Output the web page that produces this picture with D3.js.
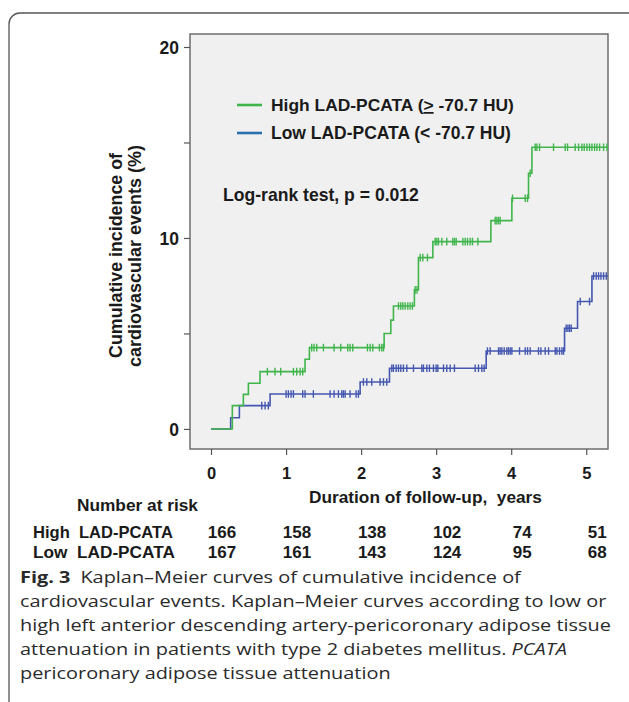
<!DOCTYPE html>
<html><head><meta charset="utf-8">
<script src="https://cdn.jsdelivr.net/npm/d3@7"></script>
<style>
html,body{margin:0;padding:0;background:#fff;}
svg{display:block;}
.ax{font-family:"Liberation Sans",Arial,sans-serif;font-weight:bold;fill:#1a1a1a;}
.cap{font-family:"Open Sans","Noto Sans",sans-serif;fill:#2a2a2a;}
</style></head><body>
<svg id="c" width="629" height="702"></svg>
<script>
// ---- data ----
const xTicks = [0,1,2,3,4,5];
const yTicks = [0,5,10,15,20];
const yTickLabels = ["0","","10","","20"];
// step events: [time (years), cumulative incidence (%) after the step]
const highSteps = [[0,0],[0.284,1.22],[0.431,1.81],[0.498,2.39],[0.653,3.0],[1.253,3.65],[1.311,4.26],[2.307,5.0],[2.396,5.7],[2.431,6.44],[2.71,7.28],[2.764,8.97],[2.956,9.81],[3.729,10.91],[4.009,12.08],[4.231,13.39],[4.276,14.75]];
const lowSteps = [[0,0],[0.262,0.59],[0.378,1.22],[0.787,1.83],[1.987,2.46],[2.378,3.18],[3.667,4.08],[4.711,5.27],[4.884,6.67],[5.076,8.01]];
const highCensor = [0.751,0.853,0.929,1.098,1.142,1.187,1.222,1.342,1.373,1.409,1.498,1.640,1.729,1.822,1.853,1.889,2.084,2.120,2.156,2.244,2.276,2.298,2.498,2.529,2.556,2.587,2.622,2.653,2.684,2.72,2.745,2.787,2.822,2.884,2.987,3.009,3.031,3.076,3.142,3.222,3.244,3.267,3.356,3.387,3.418,3.453,3.484,3.556,3.787,3.809,3.831,3.853,4.018,4.187,4.218,4.253,4.32,4.342,4.378,4.564,4.72,4.751,4.853,4.898,4.942,4.973,5.009,5.044,5.076,5.111,5.142,5.178,5.231,5.276];
const lowCensor = [0.676,0.72,0.764,1.0,1.031,1.067,1.098,1.222,1.253,1.364,1.587,1.64,1.698,1.742,1.764,1.787,1.853,1.933,1.964,2.031,2.076,2.142,2.253,2.298,2.342,2.409,2.431,2.467,2.498,2.529,2.564,2.609,2.698,2.809,2.831,2.876,2.911,2.964,3.0,3.022,3.098,3.142,3.187,3.244,3.52,3.564,3.609,3.64,3.684,3.72,3.831,3.853,3.876,3.907,3.942,3.964,3.987,4.009,4.111,4.187,4.218,4.253,4.364,4.396,4.453,4.498,4.587,4.609,4.644,4.676,4.698,4.733,4.756,4.778,4.8,4.92,5.044,5.098,5.133,5.164,5.196,5.231,5.267];
const riskTimes = [0,1,2,3,4,5];
const riskHigh = [166,158,138,102,74,51];
const riskLow = [167,161,143,124,95,68];
const groupNames = ["High  LAD-PCATA","Low  LAD-PCATA"];
const captionLines = [
 "Kaplan\u2013Meier curves of cumulative incidence of",
 "cardiovascular events. Kaplan\u2013Meier curves according to low or",
 "high left anterior descending artery-pericoronary adipose tissue",
 "attenuation in patients with type 2 diabetes mellitus. ",
 "pericoronary adipose tissue attenuation"
];
const GREEN = "#40b54c", BLUE = "#4457b0", LEG_BLUE = "#2c6fae";

// ---- helpers ----
function fit(sel, w){ // scale font-size so text width matches w
  const n = sel.node(); const fs = parseFloat(sel.style("font-size"));
  const len = n.getComputedTextLength(); if(len>0) sel.style("font-size",(fs*w/len).toFixed(2)+"px");
}

// ---- layout ----
const svg = d3.select("#c");
const box = {l:190, r:608, t:34, b:449};
const x = d3.scaleLinear().domain([-0.28, 5.29]).range([box.l, box.r]);
const y = d3.scaleLinear().domain([-1.05, 20.68]).range([box.b, box.t]);
const tEnd = x.domain()[1];

// outer rounded frame
svg.append("rect").attr("x",9).attr("y",13).attr("width",640).attr("height",720)
  .attr("rx",11).attr("fill","none").attr("stroke","#555").attr("stroke-width",1.3);

// plot box
svg.append("rect").attr("x",box.l).attr("y",box.t).attr("width",box.r-box.l).attr("height",box.b-box.t)
  .attr("fill","#f0f0f0").attr("stroke","#6e6e6e").attr("stroke-width",1.5);

// y axis
const yAxis = d3.axisLeft(y).tickValues(yTicks).tickSize(6).tickPadding(5)
  .tickFormat((d,i)=>yTickLabels[i]);
const gy = svg.append("g").attr("transform",`translate(${box.l},0)`).call(yAxis);
gy.select(".domain").remove();
gy.selectAll("line").attr("stroke","#555").attr("stroke-width",1.2);
gy.selectAll("text").attr("class","ax").style("font-size","17.5px").attr("dy","0.36em");

// x axis
const xAxis = d3.axisBottom(x).tickValues(xTicks).tickSize(6).tickPadding(12).tickFormat(d3.format("d"));
const gx = svg.append("g").attr("transform",`translate(0,${box.b})`).call(xAxis);
gx.select(".domain").remove();
gx.selectAll("line").attr("stroke","#555").attr("stroke-width",1.2);
gx.selectAll("text").attr("class","ax").style("font-size","16.5px");

// y title
const yt1 = svg.append("text").attr("class","ax").style("font-size","16px")
  .attr("transform","translate(122,255.5) rotate(-90)").attr("text-anchor","middle").text("Cumulative incidence of");
const yt2 = svg.append("text").attr("class","ax").style("font-size","16px")
  .attr("transform","translate(141,256) rotate(-90)").attr("text-anchor","middle").text("cardiovascular events (%)");
fit(yt1,205); fit(yt2,222);

// x title
const xtt = svg.append("text").attr("class","ax").style("font-size","16px").attr("x",309).attr("y",503)
  .attr("xml:space","preserve").style("white-space","pre").text("Duration of follow-up,  years");
fit(xtt,233);

// curves
function stepVal(steps,t){let v=0;for(const s of steps){if(s[0]<=t)v=s[1];}return v;}
const line = d3.line().x(d=>x(d[0])).y(d=>y(d[1])).curve(d3.curveStepAfter);
function drawCurve(steps,censor,color){
  const pts = steps.concat([[tEnd, steps[steps.length-1][1]]]);
  svg.append("path").attr("d",line(pts)).attr("fill","none").attr("stroke",color).attr("stroke-width",1.6);
  svg.append("g").selectAll("line").data(censor).join("line")
    .attr("x1",d=>x(d)).attr("x2",d=>x(d))
    .attr("y1",d=>y(stepVal(steps,d))-3.8).attr("y2",d=>y(stepVal(steps,d))+3.8)
    .attr("stroke",color).attr("stroke-width",1.4);
}
drawCurve(lowSteps,lowCensor,BLUE);
drawCurve(highSteps,highCensor,GREEN);

// legend
const leg = [{c:GREEN,y:105,w:243,parts:[["High LAD-PCATA (",false],[">",true],[" -70.7 HU)",false]]},
             {c:LEG_BLUE,y:133,w:240,parts:[["Low LAD-PCATA (< -70.7 HU)",false]]}];
leg.forEach(L=>{
  svg.append("line").attr("x1",237).attr("x2",262).attr("y1",L.y).attr("y2",L.y).attr("stroke",L.c).attr("stroke-width",2.6);
  const t = svg.append("text").attr("class","ax").style("font-size","16px").attr("x",271).attr("y",L.y+6);
  L.parts.forEach(p=>{const s=t.append("tspan").text(p[0]); if(p[1]) s.style("text-decoration","underline");});
  fit(t,L.w);
});
const lr = svg.append("text").attr("class","ax").style("font-size","16px").attr("x",223).attr("y",201).text("Log-rank test, p = 0.012");
fit(lr,196);

// risk table
const nar = svg.append("text").attr("class","ax").style("font-size","16px").attr("x",77).attr("y",511).text("Number at risk");
fit(nar,121);
[[riskHigh,538,140],[riskLow,558,142]].forEach((r,i)=>{
  const g = svg.append("text").attr("class","ax").style("font-size","16px").attr("x",33).attr("y",r[1])
    .attr("xml:space","preserve").style("white-space","pre").text(groupNames[i]);
  fit(g,r[2]);
  svg.append("g").selectAll("text").data(riskTimes).join("text").attr("class","ax").style("font-size","17px")
    .attr("x",d=>x(d)+11).attr("y",r[1]).attr("text-anchor","middle").text((d,j)=>r[0][j]);
});

// caption
const cap = svg.append("g").attr("class","cap").style("font-size","16px");
const c0 = cap.append("text").attr("x",0).attr("y",583);
c0.append("tspan").style("font-weight","bold").text("Fig. 3");
c0.append("tspan").attr("dx",8).text(captionLines[0]);
const capTexts = [];
captionLines.slice(1).forEach((s,i)=>{
  const t = cap.append("text").attr("x",0).attr("y",607+24*i).text(s);
  if(i===2) t.append("tspan").style("font-style","italic").text("PCATA");
  capTexts.push(t);
});
const sx = 587 / capTexts[0].node().getComputedTextLength();
cap.attr("transform",`translate(20,0) scale(${sx.toFixed(4)},1)`);
</script></body></html>
